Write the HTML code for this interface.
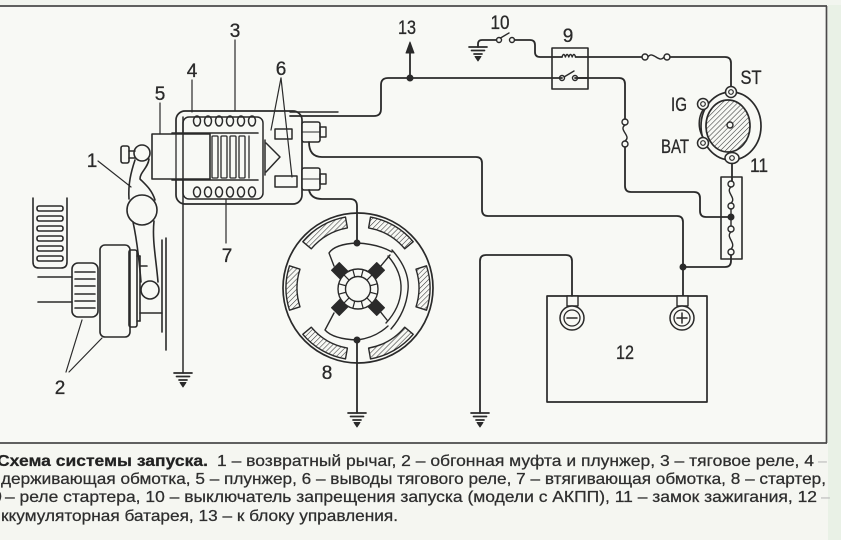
<!DOCTYPE html>
<html><head><meta charset="utf-8">
<style>
html,body{margin:0;padding:0;background:#f6f7f2;}
svg{display:block}
</style></head><body>
<svg width="841" height="540" viewBox="0 0 841 540" xmlns="http://www.w3.org/2000/svg">
<defs>
<pattern id="h" width="3.6" height="3.6" patternUnits="userSpaceOnUse" patternTransform="rotate(45)">
<line x1="0" y1="0" x2="0" y2="3.6" stroke="#333" stroke-width="1.1"/>
</pattern>
<g id="gnd" stroke="#2a2a2a" stroke-width="1.7" fill="none">
<line x1="-9" y1="0" x2="9" y2="0"/>
<line x1="-6.5" y1="3.5" x2="6.5" y2="3.5"/>
<line x1="-4" y1="7" x2="4" y2="7"/>
<path d="M-3 9.5 L3 9.5 L0 14 Z" fill="#2a2a2a" stroke-width="1"/>
</g>
</defs>

<!-- background -->
<rect x="0" y="0" width="841" height="540" fill="#f5f6f1"/>
<rect x="0" y="6" width="826" height="437" fill="#f8f9f5"/>
<rect x="828" y="0" width="13" height="540" fill="#e9f1e6"/>
<rect x="0" y="0" width="841" height="5" fill="#f2f5ef"/>

<!-- frame -->
<g stroke="#4a4a4a" stroke-width="1.7" fill="none">
<line x1="0" y1="6" x2="827" y2="6"/>
<line x1="826.5" y1="6" x2="826.5" y2="443"/>
<line x1="0" y1="443" x2="827" y2="443"/>
</g>

<g stroke="#2a2a2a" stroke-width="1.8" fill="none" stroke-linecap="round" stroke-linejoin="round">

<!-- ===== Relay 3 housing ===== -->
<rect x="176" y="111" width="126" height="93" rx="9" stroke-width="1.7"/>
<rect x="183" y="117" width="80" height="82" rx="6" stroke-width="1.5"/>
<line x1="290" y1="112" x2="338" y2="112" stroke-width="1.4"/>
<!-- coils -->
<g stroke-width="1.5">
<ellipse cx="197" cy="121" rx="3.5" ry="5"/>
<ellipse cx="208" cy="121" rx="3.5" ry="5"/>
<ellipse cx="219" cy="121" rx="3.5" ry="5"/>
<ellipse cx="230" cy="121" rx="3.5" ry="5"/>
<ellipse cx="241" cy="121" rx="3.5" ry="5"/>
<ellipse cx="252" cy="121" rx="3.5" ry="5"/>
<ellipse cx="197" cy="192" rx="3.5" ry="5"/>
<ellipse cx="208" cy="192" rx="3.5" ry="5"/>
<ellipse cx="219" cy="192" rx="3.5" ry="5"/>
<ellipse cx="230" cy="192" rx="3.5" ry="5"/>
<ellipse cx="241" cy="192" rx="3.5" ry="5"/>
<ellipse cx="252" cy="192" rx="3.5" ry="5"/>
</g>
<!-- plunger tube -->
<line x1="172" y1="133" x2="258" y2="133" stroke-width="1.6"/>
<line x1="172" y1="180" x2="258" y2="180" stroke-width="1.6"/>
<!-- plunger 5 -->
<rect x="152" y="134" width="58" height="45" fill="#f8f9f5" stroke-width="1.6"/>
<line x1="176" y1="134" x2="176" y2="179" stroke-width="1.3"/>
<!-- slats -->
<g stroke-width="1.3">
<rect x="212" y="136" width="6" height="42" rx="1"/>
<rect x="221" y="136" width="6" height="42" rx="1"/>
<rect x="230" y="136" width="6" height="42" rx="1"/>
<rect x="239" y="136" width="6" height="42" rx="1"/>
<line x1="249" y1="136" x2="249" y2="178"/>
</g>
<!-- contact triangle -->
<line x1="265" y1="140" x2="265" y2="175" stroke-width="1.5"/>
<path d="M266 143 L280 157 L266 172" stroke-width="1.5"/>
<!-- terminals 6 -->
<rect x="275" y="129" width="17" height="10" stroke-width="1.5"/>
<rect x="275" y="176" width="22" height="11" stroke-width="1.5"/>
<!-- bolts -->
<rect x="302" y="122" width="18" height="20" rx="2" fill="#f8f9f5" stroke-width="1.6"/>
<rect x="320" y="127" width="6" height="10" stroke-width="1.4"/>
<line x1="302" y1="132" x2="320" y2="132" stroke-width="1.1"/>
<rect x="302" y="168" width="18" height="22" rx="2" fill="#f8f9f5" stroke-width="1.6"/>
<rect x="320" y="174" width="6" height="10" stroke-width="1.4"/>
<line x1="302" y1="179" x2="320" y2="179" stroke-width="1.1"/>

<!-- leaders -->
<g stroke-width="1.2">
<line x1="235" y1="40" x2="235" y2="111"/>
<line x1="192" y1="80" x2="192" y2="112"/>
<line x1="160" y1="103" x2="160" y2="134"/>
<line x1="281" y1="78" x2="271" y2="130"/>
<line x1="281" y1="78" x2="292" y2="177"/>
<line x1="226" y1="199" x2="226" y2="243"/>
<line x1="98" y1="161" x2="131" y2="187"/>
<line x1="66" y1="372" x2="82" y2="320"/>
<line x1="69" y1="372" x2="102" y2="338"/>
</g>

<!-- vertical ground line from relay -->
<line x1="183" y1="117" x2="183" y2="373" stroke-width="1.5"/>

<!-- ===== Lever 1 & drive ===== -->
<g stroke-width="1.6">
<rect x="121" y="146" width="8" height="17" rx="2"/>
<line x1="129" y1="151" x2="135" y2="151"/>
<line x1="129" y1="158" x2="135" y2="158"/>
<circle cx="142" cy="153" r="8"/>
<path d="M135 160 C131 172 128 184 129 199"/>
<path d="M149 159 C148 168 140 172 140 179 C146 185 152 190 155 200"/>
<circle cx="142" cy="210" r="15"/>
<path d="M133 222 C137 240 139 258 141 282"/>
<path d="M154 221 C152 240 156 258 158 282"/>
<circle cx="150" cy="290" r="9"/>
<!-- flywheel teeth -->
<path d="M33 198 V262 Q33 268 39 268 H61 Q67 268 67 262 V198"/>
<rect x="37" y="206" width="26" height="5" rx="2"/>
<rect x="37" y="216" width="26" height="5" rx="2"/>
<rect x="37" y="226" width="26" height="5" rx="2"/>
<rect x="37" y="236" width="26" height="5" rx="2"/>
<rect x="37" y="246" width="26" height="5" rx="2"/>
<rect x="37" y="256" width="26" height="5" rx="2"/>
<!-- pinion -->
<rect x="72" y="263" width="26" height="54" rx="6"/>
<line x1="75" y1="272" x2="95" y2="272"/>
<line x1="75" y1="279" x2="95" y2="279"/>
<line x1="75" y1="286" x2="95" y2="286"/>
<line x1="75" y1="294" x2="95" y2="294"/>
<line x1="75" y1="301" x2="95" y2="301"/>
<line x1="75" y1="308" x2="95" y2="308"/>
<line x1="38" y1="277" x2="72" y2="277"/>
<line x1="38" y1="302" x2="72" y2="302"/>
<!-- clutch -->
<rect x="100" y="245" width="30" height="92" rx="5" fill="#f8f9f5"/>
<rect x="129" y="250" width="8" height="77" rx="2"/>
<line x1="137" y1="256" x2="140" y2="256"/>
<line x1="137" y1="321" x2="140" y2="321"/>
<line x1="140" y1="256" x2="140" y2="321"/>
<line x1="140" y1="313" x2="162" y2="313"/>
<line x1="140" y1="266" x2="147" y2="266"/>
<line x1="162" y1="240" x2="162" y2="332"/>
<line x1="166" y1="238" x2="166" y2="350"/>
</g>

<!-- ===== Wires ===== -->
<path d="M309 142 Q309 157 322 157 H476 Q482 157 482 163 V210 Q482 216 488 216 H677 Q683 216 683 222 V296"/>
<path d="M290 116 H374 Q381 116 381 109 V85 Q381 78 388 78 H562"/>
<path d="M575 78 H619 Q625 78 625 84 V119"/>
<path d="M625 147 V186 Q625 192 631 192 H694 Q700 192 700 198 V211 Q700 217 706 217 H731"/>
<circle cx="625" cy="122" r="3" stroke-width="1.4"/>
<circle cx="625" cy="144" r="3" stroke-width="1.4"/>
<path d="M625 125 C618 130 632 136 625 141" stroke-width="1.4"/>
<!-- 13 arrow -->
<line x1="410" y1="78" x2="410" y2="50"/>
<path d="M410 42 L406 53 L414 53 Z" fill="#2a2a2a" stroke-width="1"/>
<circle cx="410" cy="78" r="2.6" fill="#2a2a2a"/>

<!-- relay 9 -->
<rect x="552" y="48" width="36" height="41" stroke-width="1.6"/>
<circle cx="562" cy="78" r="2.5" stroke-width="1.4"/>
<circle cx="575" cy="78" r="2.5" stroke-width="1.4"/>
<line x1="564" y1="77" x2="574" y2="71" stroke-width="1.4"/>
<line x1="577" y1="78" x2="588" y2="78"/>
<path d="M562 57 q1.7 -5 3.4 0 q1.7 -5 3.4 0 q1.7 -5 3.4 0 q1.7 -5 3.4 0" stroke-width="1.4"/>
<line x1="575.6" y1="57" x2="642" y2="57"/>
<path d="M562 57 H540 Q535 57 535 52 V45 Q535 40 530 40 H514.5"/>
<circle cx="645" cy="57" r="3" stroke-width="1.4"/>
<circle cx="667" cy="57" r="3" stroke-width="1.4"/>
<path d="M648 57 C653 50 659 64 664 57" stroke-width="1.4"/>
<path d="M670 57 H725 Q731 57 731 63 V86"/>
<!-- switch 10 -->
<circle cx="499" cy="40" r="2.5" stroke-width="1.4"/>
<circle cx="512" cy="40" r="2.5" stroke-width="1.4"/>
<line x1="500.5" y1="38" x2="509" y2="33" stroke-width="1.4"/>
<path d="M496.5 40 H482 Q478 40 478 44 V47"/>
<use href="#gnd" x="478" y="47"/>

<!-- ignition switch 11 -->
<ellipse cx="731" cy="126" rx="30" ry="34" stroke-width="1.7"/>
<path d="M708 104 A26 26 0 0 0 708 143" stroke-width="1.5"/>
<ellipse cx="728" cy="126" rx="22" ry="26" fill="url(#h)" stroke-width="1.7"/>
<circle cx="730" cy="125" r="3" fill="#f8f9f5" stroke-width="1.4"/>
<g fill="#f8f9f5" stroke-width="1.5">
<circle cx="731" cy="92" r="5.5"/>
<circle cx="703" cy="104" r="5.5"/>
<circle cx="703" cy="143" r="5.5"/>
<ellipse cx="732" cy="158" rx="7" ry="5.5"/>
</g>
<g stroke-width="1.2">
<circle cx="731" cy="92" r="2.3"/>
<circle cx="703" cy="104" r="2.3"/>
<circle cx="703" cy="143" r="2.3"/>
<circle cx="732" cy="158" r="2.3"/>
</g>
<!-- fuse block -->
<line x1="732" y1="163.5" x2="732" y2="181"/>
<rect x="721" y="177" width="21" height="82" stroke-width="1.6"/>
<g stroke-width="1.4">
<circle cx="731" cy="184" r="3"/>
<path d="M731 187 C725 192 737 198 731 203"/>
<circle cx="731" cy="206" r="3"/>
<line x1="731" y1="209" x2="731" y2="226"/>
<circle cx="731" cy="229" r="3"/>
<path d="M731 232 C725 237 737 243 731 249"/>
<circle cx="731" cy="252" r="3"/>
</g>
<circle cx="731" cy="217" r="2.6" fill="#2a2a2a"/>
<path d="M731 255 V261 Q731 267 725 267 H683"/>
<circle cx="683" cy="267" r="2.6" fill="#2a2a2a"/>

<!-- battery 12 -->
<rect x="547" y="296" width="160" height="106" stroke-width="1.7"/>
<rect x="567" y="296" width="11" height="10" fill="#f8f9f5" stroke-width="1.4"/>
<rect x="677" y="296" width="11" height="10" fill="#f8f9f5" stroke-width="1.4"/>
<circle cx="572" cy="318" r="12" fill="#f8f9f5" stroke-width="1.5"/>
<circle cx="572" cy="318" r="8" stroke-width="1.3"/>
<line x1="567" y1="318" x2="577" y2="318" stroke-width="1.5"/>
<circle cx="682" cy="318" r="12" fill="#f8f9f5" stroke-width="1.5"/>
<circle cx="682" cy="318" r="8" stroke-width="1.3"/>
<line x1="677" y1="318" x2="687" y2="318" stroke-width="1.5"/>
<line x1="682" y1="313" x2="682" y2="323" stroke-width="1.5"/>
<path d="M572 296 V261 Q572 255 566 255 H486 Q480 255 480 261 V413"/>
<use href="#gnd" x="480" y="413"/>

<!-- starter 8 -->
<path d="M309 190 Q311 199 322 199 H350 Q357 199 357 206 V243"/>
<circle cx="358" cy="288" r="75" stroke-width="1.7"/>
<g fill="url(#h)" stroke-width="1.4">
<path d="M413.2 241.7 A72 72 0 0 0 370.5 217.1 L368.6 227.9 A61 61 0 0 1 404.7 248.8 Z"/>
<path d="M345.5 217.1 A72 72 0 0 0 302.8 241.7 L311.3 248.8 A61 61 0 0 1 347.4 227.9 Z"/>
<path d="M289.5 265.8 A72 72 0 0 0 289.5 310.2 L300 306.8 A61 61 0 0 1 300 269.2 Z"/>
<path d="M302.8 334.3 A72 72 0 0 0 345.5 358.9 L347.4 348.1 A61 61 0 0 1 311.3 327.2 Z"/>
<path d="M370.5 358.9 A72 72 0 0 0 413.2 334.3 L404.7 327.2 A61 61 0 0 1 368.6 348.1 Z"/>
<path d="M426.5 310.2 A72 72 0 0 0 426.5 265.8 L416 269.2 A61 61 0 0 1 416 306.8 Z"/>
</g>
<g stroke-width="1.4">
<path d="M357 243 Q335 244 329 253 L334 266"/>
<path d="M357 243 Q378 244 392 252"/>
<path d="M392 250 Q410 270 408 290 Q406 312 391 329"/>
<path d="M388 256 Q402 272 401 290 Q400 308 386 323"/>
<line x1="380" y1="267" x2="390" y2="255"/>
<line x1="379" y1="310" x2="387" y2="320"/>
<path d="M357 340 Q333 339 325 330 L334 313"/>
<path d="M357 340 Q375 338 388 326"/>
</g>
<g transform="translate(358,289)">
<circle r="20" fill="#f8f9f5" stroke-width="1.4"/>
<circle r="12.5" stroke-width="1.4"/>
<g stroke-width="1.2">
<line x1="12.5" y1="0" x2="20" y2="0" transform="rotate(15)"/>
<line x1="12.5" y1="0" x2="20" y2="0" transform="rotate(45)"/>
<line x1="12.5" y1="0" x2="20" y2="0" transform="rotate(75)"/>
<line x1="12.5" y1="0" x2="20" y2="0" transform="rotate(105)"/>
<line x1="12.5" y1="0" x2="20" y2="0" transform="rotate(135)"/>
<line x1="12.5" y1="0" x2="20" y2="0" transform="rotate(165)"/>
<line x1="12.5" y1="0" x2="20" y2="0" transform="rotate(195)"/>
<line x1="12.5" y1="0" x2="20" y2="0" transform="rotate(225)"/>
<line x1="12.5" y1="0" x2="20" y2="0" transform="rotate(255)"/>
<line x1="12.5" y1="0" x2="20" y2="0" transform="rotate(285)"/>
<line x1="12.5" y1="0" x2="20" y2="0" transform="rotate(315)"/>
<line x1="12.5" y1="0" x2="20" y2="0" transform="rotate(345)"/>
</g>
<g fill="#2a2a2a" stroke-width="1">
<rect x="20" y="-5.5" width="12" height="11" transform="rotate(45)"/>
<rect x="20" y="-5.5" width="12" height="11" transform="rotate(135)"/>
<rect x="20" y="-5.5" width="12" height="11" transform="rotate(225)"/>
<rect x="20" y="-5.5" width="12" height="11" transform="rotate(315)"/>
</g>
</g>
<circle cx="357" cy="243" r="2.6" fill="#2a2a2a"/>
<circle cx="357" cy="340" r="2.6" fill="#2a2a2a"/>
<line x1="357" y1="340" x2="357" y2="413"/>
<use href="#gnd" x="357" y="413"/>
<use href="#gnd" x="183" y="373"/>
</g>

<!-- labels -->
<g font-family="'Liberation Sans', Arial, sans-serif" font-size="19" fill="#2a2a2a" stroke="#2a2a2a" stroke-width="0.3" text-anchor="middle">
<text x="235" y="37">3</text>
<text x="192" y="77">4</text>
<text x="160" y="100">5</text>
<text x="281" y="75">6</text>
<text x="92" y="167">1</text>
<text x="60" y="394">2</text>
<text x="227" y="262">7</text>
<text x="327" y="379">8</text>
<text x="407" y="34" textLength="18" lengthAdjust="spacingAndGlyphs">13</text>
<text x="500" y="29" textLength="19" lengthAdjust="spacingAndGlyphs">10</text>
<text x="568" y="42">9</text>
<text x="751" y="84" textLength="21" lengthAdjust="spacingAndGlyphs">ST</text>
<text x="679" y="111" textLength="16" lengthAdjust="spacingAndGlyphs">IG</text>
<text x="675" y="153" textLength="28" lengthAdjust="spacingAndGlyphs">BAT</text>
<text x="759" y="172" textLength="18" lengthAdjust="spacingAndGlyphs">11</text>
<text x="625" y="359" textLength="18" lengthAdjust="spacingAndGlyphs">12</text>
</g>

<!-- caption -->
<g font-family="'Liberation Sans', Arial, sans-serif" font-size="16" fill="#2e2e2e" stroke="#2e2e2e" stroke-width="0.25">
<text x="-3" y="466" font-weight="bold" fill="#222" stroke="#222" textLength="211" lengthAdjust="spacingAndGlyphs">Схема системы запуска.</text>
<text x="217" y="466" textLength="597" lengthAdjust="spacingAndGlyphs">1 – возвратный рычаг, 2 – обгонная муфта и плунжер, 3 – тяговое реле, 4</text>
<text x="818" y="466" fill="#b8b8b8" stroke="none">–</text>
<text x="1" y="484" textLength="825" lengthAdjust="spacingAndGlyphs">держивающая обмотка, 5 – плунжер, 6 – выводы тягового реле, 7 – втягивающая обмотка, 8 – стартер,</text>
<text x="-7" y="502">9</text>
<text x="5" y="502" textLength="812" lengthAdjust="spacingAndGlyphs">– реле стартера, 10 – выключатель запрещения запуска (модели с АКПП), 11 – замок зажигания, 12</text>
<text x="821" y="502" fill="#b8b8b8" stroke="none">–</text>
<text x="1" y="521" textLength="397" lengthAdjust="spacingAndGlyphs">ккумуляторная батарея, 13 – к блоку управления.</text>
</g>
</svg>
</body></html>
